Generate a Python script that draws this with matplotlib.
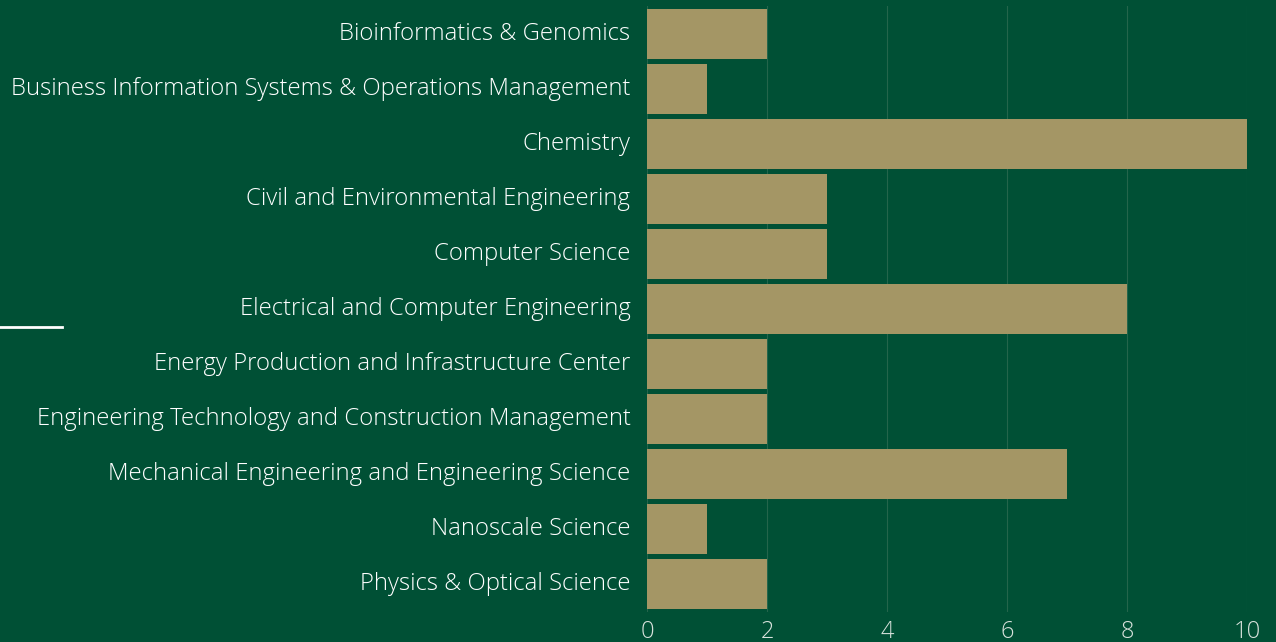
import matplotlib.pyplot as plt
from matplotlib.lines import Line2D

departments = [
    "Bioinformatics & Genomics",
    "Business Information Systems & Operations Management",
    "Chemistry",
    "Civil and Environmental Engineering",
    "Computer Science",
    "Electrical and Computer Engineering",
    "Energy Production and Infrastructure Center",
    "Engineering Technology and Construction Management",
    "Mechanical Engineering and Engineering Science",
    "Nanoscale Science",
    "Physics & Optical Science",
]
counts = [2, 1, 10, 3, 3, 8, 2, 2, 7, 1, 2]
x_ticks = [0, 2, 4, 6, 8, 10]

green = "#005035"
gold = "#A49665"

plt.rcParams['font.family'] = ['Open Sans', 'DejaVu Sans']

fig = plt.figure(figsize=(12.76, 6.42), dpi=100, facecolor=green)
ax = fig.add_axes([0.5071, 0.0475, 0.4702, 0.9424])
ax.set_facecolor(green)

y = list(range(len(departments)))
ax.barh(y, counts, height=0.91, color=gold, zorder=3)

ax.set_ylim(len(departments) - 0.5, -0.5)
ax.set_xlim(0, 10)
ax.set_yticks(y)
ax.set_yticklabels(departments, fontsize=17.2, color="white", fontweight="light",
                   va="center")
ax.set_xticks(x_ticks)
ax.set_xticklabels([str(t) for t in x_ticks], fontsize=17, color="#d8e2dc", fontweight="light")
ax.tick_params(axis="y", length=0, pad=12)
ax.tick_params(axis="x", length=0, pad=6)

ax.grid(axis="x", color="#24654b", linewidth=0.8, zorder=0)
for s in ax.spines.values():
    s.set_visible(False)

# small decorative line on the left
fig.add_artist(Line2D([0, 62 / 1276], [1 - 327 / 642] * 2, color="white", linewidth=2))

fig.savefig("out.png", dpi=100, facecolor=green)
